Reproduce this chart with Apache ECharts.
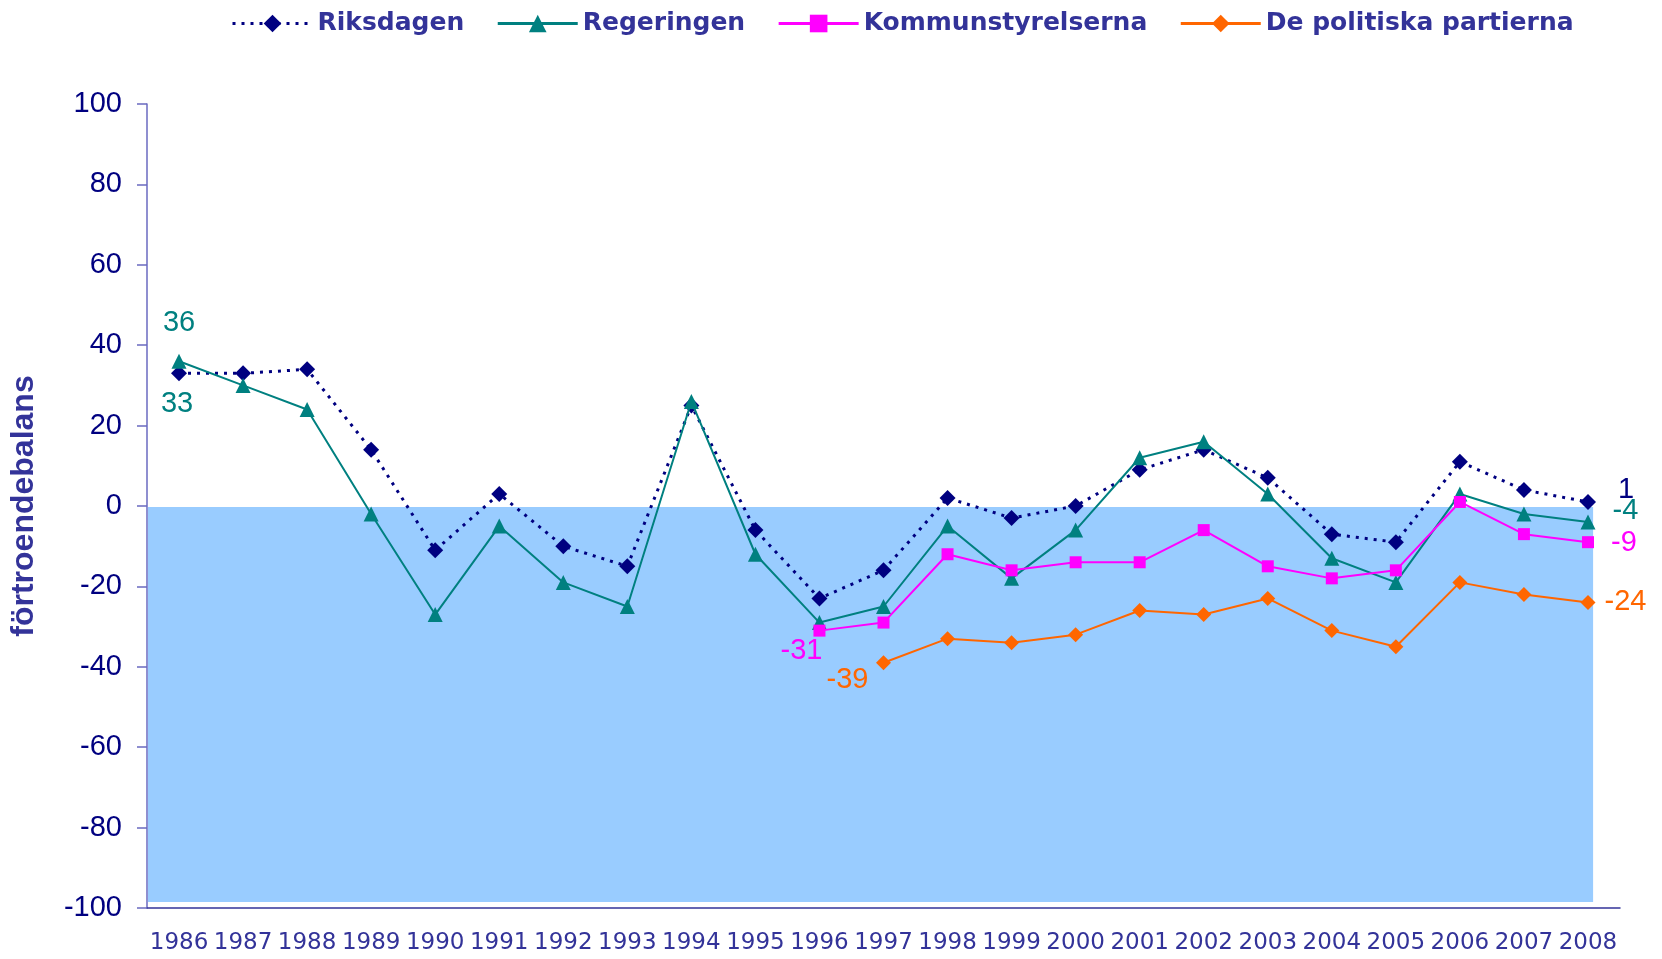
<!DOCTYPE html>
<html>
<head>
<meta charset="utf-8">
<script src="https://cdn.jsdelivr.net/npm/echarts@6/dist/echarts.min.js"></script>
<style>
html,body{margin:0;padding:0;background:#fff;}
#chart{width:1662px;height:959px;}
</style>
</head>
<body>
<div id="chart"></div>
<script>
// ---- data ----
const years = ['1986','1987','1988','1989','1990','1991','1992','1993','1994','1995','1996','1997','1998','1999','2000','2001','2002','2003','2004','2005','2006','2007','2008'];
const riksdagen = [33, 33, 34, 14, -11, 3, -10, -15, 25, -6, -23, -16, 2, -3, 0, 9, 14, 7, -7, -9, 11, 4, 1];
const regeringen = [36, 30, 24, -2, -27, -5, -19, -25, 26, -12, -29, -25, -5, -18, -6, 12, 16, 3, -13, -19, 3, -2, -4];
const kommunstyrelserna = [null, null, null, null, null, null, null, null, null, null, -31, -29, -12, -16, -14, -14, -6, -15, -18, -16, 1, -7, -9];
const partierna = [null, null, null, null, null, null, null, null, null, null, null, -39, -33, -34, -32, -26, -27, -23, -31, -35, -19, -22, -24];
const seriesNames = ['Riksdagen', 'Regeringen', 'Kommunstyrelserna', 'De politiska partierna'];
const yTicks = { min: -100, max: 100, interval: 20 };
const shadeTop = 0, shadeBottom = -98.5;

// ---- styling ----
const C_RIKS = '#000080', C_REG = '#008080', C_KOM = '#FF00FF', C_PART = '#FF6600';
const LBL = { fontFamily: 'Liberation Sans, Arial, sans-serif', fontSize: 29 };

function withLabels(values, labels) {
  return values.map((v, i) => {
    if (labels[i] !== undefined && v !== null) {
      return { value: v, label: Object.assign({ show: true }, LBL, labels[i]) };
    }
    return v;
  });
}
const last = years.length - 1;
const endLabel = (color, dy) => ({ position: 'right', distance: 30, align: 'center', color: color, offset: [0, dy] });

const chart = echarts.init(document.getElementById('chart'), null, { renderer: 'canvas' });
chart.setOption({
  animation: false,
  backgroundColor: '#fff',
  grid: { left: 144, right: 42, top: 104, bottom: 51, containLabel: false },
  legend: {
    data: seriesNames,
    left: 226, top: 6,
    itemWidth: 80, itemHeight: 22, itemGap: 32,
    lineStyle: { width: 3 },
    textStyle: { fontFamily: 'DejaVu Sans, sans-serif', fontWeight: 'bold', fontSize: 25, color: '#333399' }
  },
  xAxis: {
    type: 'category', data: years, boundaryGap: true,
    axisLine: { onZero: false, lineStyle: { color: '#333399', width: 1.5 } },
    axisTick: { show: false },
    axisLabel: { margin: 24, interval: 0, color: '#333399', fontFamily: 'DejaVu Sans, sans-serif', fontSize: 23 },
    splitLine: { show: false }
  },
  yAxis: {
    type: 'value', min: yTicks.min, max: yTicks.max, interval: yTicks.interval,
    name: 'förtroendebalans', nameLocation: 'middle', nameGap: 107, nameRotate: 90,
    nameTextStyle: { fontFamily: 'Liberation Sans, Arial, sans-serif', fontWeight: 'bold', fontSize: 32, color: '#333399' },
    axisLine: { show: true, lineStyle: { color: '#6a6ac0', width: 1.5 } },
    axisTick: { show: true, inside: false, length: 10, lineStyle: { color: '#6a6ac0', width: 1.5 } },
    axisLabel: { margin: 25, color: '#000080', fontFamily: 'Liberation Sans, Arial, sans-serif', fontSize: 29 },
    splitLine: { show: false }
  },
  series: [
    {
      type: 'custom', z: 1, silent: true, tooltip: { show: false },
      data: [[0, shadeTop, shadeBottom]],
      renderItem: function (params, api) {
        const band = api.size([1, 0])[0];
        const pTop = api.coord([0, api.value(1)]);
        const pBot = api.coord([last, api.value(2)]);
        const left = params.coordSys.x + 1;
        const right = pBot[0] + band * 0.08;
        return {
          type: 'rect',
          shape: { x: left, y: pTop[1] + 1, width: right - left, height: pBot[1] - pTop[1] - 1 },
          style: { fill: '#99CCFF' }
        };
      }
    },
    {
      name: seriesNames[0], type: 'line', z: 3,
      data: withLabels(riksdagen, {
        0: { position: 'bottom', distance: 8, offset: [-2, 0], color: C_REG },
        [last]: endLabel(C_RIKS, -12)
      }),
      symbol: 'diamond', symbolSize: 16,
      itemStyle: { color: C_RIKS },
      lineStyle: { color: C_RIKS, width: 3, type: [3, 6] }
    },
    {
      name: seriesNames[1], type: 'line', z: 4,
      data: withLabels(regeringen, {
        0: { position: 'top', distance: 16, color: C_REG },
        [last]: endLabel(C_REG, -11)
      }),
      symbol: 'triangle', symbolSize: 15,
      itemStyle: { color: C_REG },
      lineStyle: { color: C_REG, width: 2 }
    },
    {
      name: seriesNames[2], type: 'line', z: 5,
      data: withLabels(kommunstyrelserna, {
        10: { position: 'bottom', distance: 2, offset: [-18, -2], color: C_KOM },
        [last]: endLabel(C_KOM, 1)
      }),
      symbol: 'rect', symbolSize: 12,
      itemStyle: { color: C_KOM },
      lineStyle: { color: C_KOM, width: 2 }
    },
    {
      name: seriesNames[3], type: 'line', z: 5,
      data: withLabels(partierna, {
        11: { position: 'bottom', distance: 0, offset: [-36, -5], color: C_PART },
        [last]: endLabel(C_PART, 0)
      }),
      symbol: 'diamond', symbolSize: 15,
      itemStyle: { color: C_PART },
      lineStyle: { color: C_PART, width: 2 }
    }
  ]
});
</script>
</body>
</html>
